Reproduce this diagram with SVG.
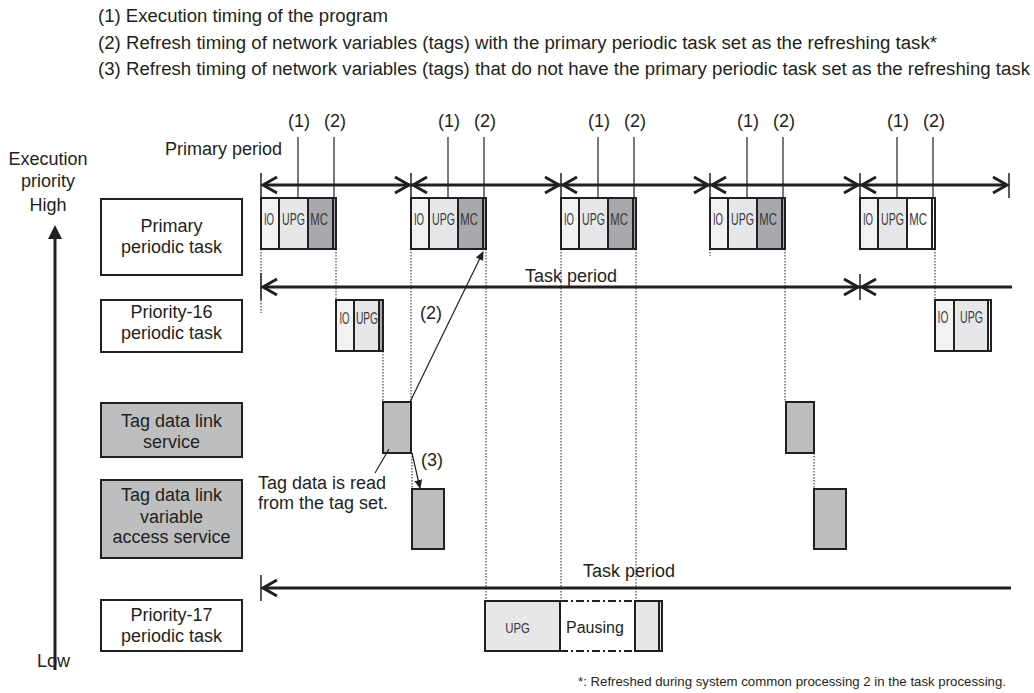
<svg xmlns="http://www.w3.org/2000/svg" width="1034" height="693" viewBox="0 0 1034 693">
<style>
text{font-family:"Liberation Sans",Arial,sans-serif;fill:#231f20;font-size:18px}
.c{text-anchor:middle}
.e{text-anchor:end}
.n{font-size:12px;text-anchor:middle;fill:#3a3a3a}
.box{fill:#fff;stroke:#231f20;stroke-width:2}
.gbox{fill:#bcbec0;stroke:#231f20;stroke-width:2}
.io{fill:#f1f2f2;stroke:#231f20;stroke-width:2}
.upg{fill:#e6e7e8;stroke:#231f20;stroke-width:2}
.mc{fill:#a7a9ac;stroke:#231f20;stroke-width:2}
.wc{fill:#fff;stroke:#231f20;stroke-width:2}
.thick{stroke:#231f20;stroke-width:3;fill:none}
.bar{stroke:#231f20;stroke-width:1.5}
.dot{stroke:#231f20;stroke-width:1;stroke-dasharray:1.5 1.5;fill:none}
.thin{stroke:#231f20;stroke-width:1.2;fill:none}
.dd{stroke:#231f20;stroke-width:2;stroke-dasharray:8 3 2 3;fill:none}
</style>
<defs>
<marker id="ah" markerWidth="9" markerHeight="8" refX="8" refY="4" orient="auto" markerUnits="userSpaceOnUse">
<path d="M0,0 L9,4 L0,8 Z" fill="#231f20"/>
</marker>
</defs>

<g id="legend">
<text x="98" y="22" textLength="290" lengthAdjust="spacingAndGlyphs">(1) Execution timing of the program</text>
<text x="98" y="49" textLength="839" lengthAdjust="spacingAndGlyphs">(2) Refresh timing of network variables (tags) with the primary periodic task set as the refreshing task*</text>
<text x="98" y="75" textLength="932" lengthAdjust="spacingAndGlyphs">(3) Refresh timing of network variables (tags) that do not have the primary periodic task set as the refreshing task</text>
</g>

<g id="priority-axis">
<text class="c" x="48" y="165">Execution</text>
<text class="c" x="48" y="187">priority</text>
<text class="c" x="48" y="211">High</text>
<line x1="55" y1="236" x2="55" y2="670" class="thick"/>
<path d="M48,239 L62,239 L55,225 Z" fill="#231f20"/>
<text x="37" y="667">Low</text>
</g>

<g id="label-primary">
<rect class="box" x="101" y="199" width="141" height="76"/>
<text class="c" x="171.5" y="232">Primary</text>
<text class="c" x="171.5" y="253">periodic task</text>
</g>
<g id="label-p16">
<rect class="box" x="101" y="300" width="141" height="52"/>
<text class="c" x="171.5" y="318">Priority-16</text>
<text class="c" x="171.5" y="339">periodic task</text>
</g>
<g id="label-tdl">
<rect class="gbox" x="101" y="403" width="141" height="54"/>
<text class="c" x="171.5" y="427">Tag data link</text>
<text class="c" x="171.5" y="448">service</text>
</g>
<g id="label-tdlvar">
<rect class="gbox" x="101" y="480" width="141" height="78"/>
<text class="c" x="171.5" y="501">Tag data link</text>
<text class="c" x="171.5" y="523">variable</text>
<text class="c" x="171.5" y="543">access service</text>
</g>
<g id="label-p17">
<rect class="box" x="101" y="600" width="141" height="51"/>
<text class="c" x="171.5" y="621">Priority-17</text>
<text class="c" x="171.5" y="642">periodic task</text>
</g>

<g id="primary-period">
<text x="165" y="155">Primary period</text>
<line class="thick" x1="263" y1="185" x2="1007" y2="185"/>
<g class="bar">
<line x1="261" y1="173" x2="261" y2="198"/>
<line x1="411" y1="173" x2="411" y2="198"/>
<line x1="561" y1="173" x2="561" y2="198"/>
<line x1="710" y1="173" x2="710" y2="198"/>
<line x1="860" y1="173" x2="860" y2="198"/>
<line x1="1009" y1="173" x2="1009" y2="198"/>
</g>
<path class="thick" d="M277,177 L263,185 L277,193 M395,177 L409,185 L395,193 M427,177 L413,185 L427,193 M545,177 L559,185 L545,193 M577,177 L563,185 L577,193 M694,177 L708,185 L694,193 M726,177 L712,185 L726,193 M844,177 L858,185 L844,193 M876,177 L862,185 L876,193 M993,177 L1007,185 L993,193"/>
</g>

<g id="timing-marks">
<g class="thin">
<line x1="298" y1="137" x2="298" y2="198"/><line x1="334" y1="137" x2="334" y2="198"/>
<line x1="448" y1="137" x2="448" y2="198"/><line x1="484" y1="137" x2="484" y2="198"/>
<line x1="598" y1="137" x2="598" y2="198"/><line x1="634" y1="137" x2="634" y2="198"/>
<line x1="747" y1="137" x2="747" y2="198"/><line x1="783" y1="137" x2="783" y2="198"/>
<line x1="897" y1="137" x2="897" y2="198"/><line x1="933" y1="137" x2="933" y2="198"/>
</g>
<text class="c" x="299" y="127">(1)</text><text class="c" x="335" y="127">(2)</text>
<text class="c" x="449" y="127">(1)</text><text class="c" x="485" y="127">(2)</text>
<text class="c" x="599" y="127">(1)</text><text class="c" x="635" y="127">(2)</text>
<text class="c" x="748" y="127">(1)</text><text class="c" x="784" y="127">(2)</text>
<text class="c" x="898" y="127">(1)</text><text class="c" x="934" y="127">(2)</text>
</g>

<g id="primary-run-1">
<rect class="io" x="261" y="198" width="18" height="51"/><rect class="upg" x="279" y="198" width="29" height="51"/><rect class="mc" x="308" y="198" width="25" height="51"/><rect class="mc" x="333" y="198" width="3" height="51"/>
<text class="n" transform="translate(269,225) scale(0.8,1.45)">IO</text><text class="n" transform="translate(293.5,225) scale(0.88,1.45)">UPG</text><text class="n" transform="translate(319,225) scale(0.95,1.45)">MC</text>
</g>
<g id="primary-run-2">
<rect class="io" x="411" y="198" width="18" height="51"/><rect class="upg" x="429" y="198" width="29" height="51"/><rect class="mc" x="458" y="198" width="25" height="51"/><rect class="mc" x="483" y="198" width="3" height="51"/>
<text class="n" transform="translate(419,225) scale(0.8,1.45)">IO</text><text class="n" transform="translate(443.5,225) scale(0.88,1.45)">UPG</text><text class="n" transform="translate(469,225) scale(0.95,1.45)">MC</text>
</g>
<g id="primary-run-3">
<rect class="io" x="561" y="198" width="18" height="51"/><rect class="upg" x="579" y="198" width="29" height="51"/><rect class="mc" x="608" y="198" width="25" height="51"/><rect class="mc" x="633" y="198" width="3" height="51"/>
<text class="n" transform="translate(569,225) scale(0.8,1.45)">IO</text><text class="n" transform="translate(593.5,225) scale(0.88,1.45)">UPG</text><text class="n" transform="translate(619,225) scale(0.95,1.45)">MC</text>
</g>
<g id="primary-run-4">
<rect class="io" x="710" y="198" width="18" height="51"/><rect class="upg" x="728" y="198" width="29" height="51"/><rect class="mc" x="757" y="198" width="25" height="51"/><rect class="mc" x="782" y="198" width="3" height="51"/>
<text class="n" transform="translate(718,225) scale(0.8,1.45)">IO</text><text class="n" transform="translate(742.5,225) scale(0.88,1.45)">UPG</text><text class="n" transform="translate(768,225) scale(0.95,1.45)">MC</text>
</g>
<g id="primary-run-5">
<rect class="io" x="860" y="198" width="18" height="51"/><rect class="upg" x="878" y="198" width="29" height="51"/><rect class="wc" x="907" y="198" width="25" height="51"/><rect class="wc" x="932" y="198" width="3" height="51"/>
<text class="n" transform="translate(868,225) scale(0.8,1.45)">IO</text><text class="n" transform="translate(892.5,225) scale(0.88,1.45)">UPG</text><text class="n" transform="translate(918,225) scale(0.95,1.45)">MC</text>
</g>

<g id="p16-period">
<text x="525" y="282">Task period</text>
<line class="thick" x1="263" y1="287" x2="1012" y2="287"/>
<line class="bar" x1="261" y1="273" x2="261" y2="300"/>
<line class="bar" x1="860" y1="274" x2="860" y2="300"/>
<path class="thick" d="M277,279 L263,287 L277,295 M844,279 L858,287 L844,295 M876,279 L862,287 L876,295"/>
</g>
<g id="p16-run-1">
<rect class="io" x="336" y="300" width="18" height="51"/><rect class="upg" x="354" y="300" width="25" height="51"/><rect class="mc" x="379" y="300" width="4" height="51"/>
<text class="n" transform="translate(344.5,324) scale(0.8,1.35)">IO</text><text class="n" transform="translate(367,324) scale(0.85,1.35)">UPG</text>
</g>
<g id="p16-run-2">
<rect class="io" x="935" y="300" width="19" height="51"/><rect class="upg" x="954" y="300" width="34" height="51"/><rect class="wc" x="988" y="300" width="3" height="51"/>
<text class="n" transform="translate(943,323) scale(0.85,1.35)">IO</text><text class="n" transform="translate(971.5,323) scale(0.88,1.35)">UPG</text>
</g>

<g id="tdl-run-1"><rect class="gbox" x="383" y="402" width="28" height="51"/></g>
<g id="tdl-run-2"><rect class="gbox" x="786" y="402" width="28" height="51"/></g>
<g id="tdlvar-run-1"><rect class="gbox" x="412" y="489" width="32" height="60"/></g>
<g id="tdlvar-run-2"><rect class="gbox" x="814" y="489" width="32" height="60"/></g>

<g id="p17-period">
<text x="583" y="577">Task period</text>
<line class="thick" x1="263" y1="588" x2="1011" y2="588"/>
<line class="bar" x1="261" y1="575" x2="261" y2="601"/>
<path class="thick" d="M277,580 L263,588 L277,596"/>
</g>
<g id="p17-run">
<rect class="upg" x="485" y="601" width="75" height="50"/>
<text class="n" transform="translate(517.5,633) scale(0.95,1.2)">UPG</text>
<line class="dd" x1="560" y1="601" x2="635" y2="601"/>
<line class="dd" x1="560" y1="651" x2="635" y2="651"/>
<text x="566" y="633" style="font-size:16px">Pausing</text>
<rect class="upg" x="635" y="601" width="24" height="50"/><rect class="upg" x="659" y="601" width="3" height="50"/>
</g>

<g id="note-read">
<text class="e" x="386" y="489">Tag data is read</text>
<text class="e" x="388" y="509">from the tag set.</text>
</g>

<g id="connectors">
<g class="dot">
<line x1="261" y1="249" x2="261" y2="313"/>
<line x1="336" y1="249" x2="336" y2="300"/>
<line x1="383" y1="351" x2="383" y2="402"/>
<line x1="411" y1="249" x2="411" y2="402"/>
<line x1="486" y1="249" x2="486" y2="601"/>
<line x1="412" y1="453" x2="412" y2="489"/>
<line x1="561" y1="249" x2="561" y2="601"/>
<line x1="636" y1="249" x2="636" y2="601"/>
<line x1="710" y1="249" x2="710" y2="256"/>
<line x1="785" y1="249" x2="785" y2="402"/>
<line x1="814" y1="453" x2="814" y2="489"/>
<line x1="935" y1="249" x2="935" y2="300"/>
</g>
<line class="thin" x1="410" y1="402" x2="483" y2="252" marker-end="url(#ah)"/>
<line class="thin" x1="412" y1="453" x2="420" y2="488" marker-end="url(#ah)"/>
<line class="thin" x1="389" y1="449" x2="375" y2="473"/>
<text class="c" x="431" y="319">(2)</text>
<text class="c" x="432" y="466">(3)</text>
</g>

<g id="footnote">
<text x="578" y="686" style="font-size:13.5px" textLength="428" lengthAdjust="spacingAndGlyphs">*: Refreshed during system common processing 2 in the task processing.</text>
</g>
</svg>
